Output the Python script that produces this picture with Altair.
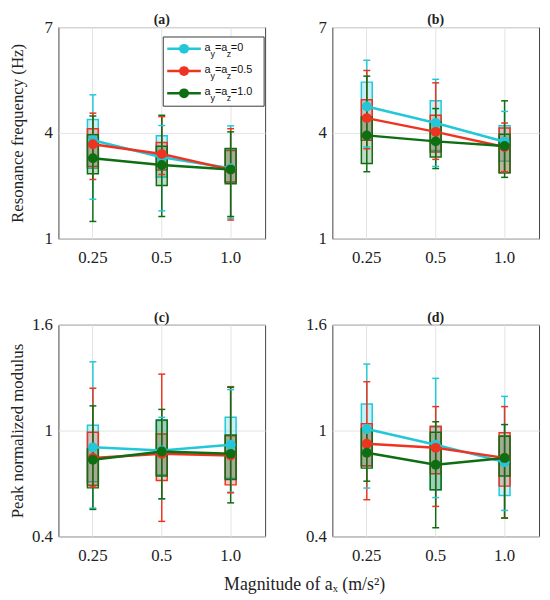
import altair as alt
import pandas as pd

CATS = ['0.25', '0.5', '1.0']
SERIES = ['ay=az=0', 'ay=az=0.5', 'ay=az=1.0']
LEVELS = ['0', '0.5', '1.0']
COLORS = ['#22C8D8', '#EE3320', '#0E6E12']

# Panel (a) resonance frequency; rows = series (cyan, red, green), cols = CATS
A_MEAN = [[3.79, 3.31, 3.00], [3.68, 3.40, 2.96], [3.28, 3.09, 2.96]]
A_BLO = [[3.00, 2.75, 2.60], [3.05, 2.95, 2.61], [2.84, 2.51, 2.56]]
A_BHI = [[4.38, 3.92, 3.55], [4.12, 3.73, 3.50], [3.95, 3.62, 3.56]]
A_WLO = [[2.12, 1.79, 1.58], [2.68, 2.82, 1.53], [1.49, 1.63, 1.63]]
A_WHI = [[5.08, 4.21, 4.20], [4.56, 4.46, 4.12], [4.48, 4.50, 4.03]]

# Panel (b)
B_MEAN = [[4.75, 4.28, 3.75], [4.42, 4.03, 3.60], [3.93, 3.76, 3.63]]
B_BLO = [[3.90, 3.50, 3.20], [3.79, 3.46, 2.87], [3.13, 3.32, 2.87]]
B_BHI = [[5.44, 4.91, 4.20], [4.94, 4.50, 4.14], [4.45, 4.31, 3.96]]
B_WLO = [[3.60, 3.05, 2.90], [3.55, 3.25, 2.90], [2.90, 2.99, 2.74]]
B_WHI = [[6.06, 5.52, 4.61], [5.77, 5.42, 4.28], [5.61, 4.69, 4.91]]

# Panel (c) peak normalized modulus
C_MEAN = [[0.905, 0.887, 0.920], [0.845, 0.868, 0.858], [0.834, 0.881, 0.868]]
C_BLO = [[0.710, 0.750, 0.730], [0.690, 0.717, 0.692], [0.675, 0.742, 0.723]]
C_BHI = [[1.030, 1.057, 1.075], [0.990, 0.980, 0.970], [0.896, 1.060, 0.975]]
C_WLO = [[0.560, 0.613, 0.650], [0.680, 0.485, 0.647], [0.553, 0.613, 0.590]]
C_WHI = [[1.390, 1.075, 1.232], [1.240, 1.320, 1.249], [1.140, 1.120, 1.245]]

# Panel (d)
D_MEAN = [[1.009, 0.920, 0.821], [0.925, 0.902, 0.845], [0.874, 0.806, 0.845]]
D_BLO = [[0.800, 0.664, 0.632], [0.800, 0.755, 0.685], [0.787, 0.664, 0.742]]
D_BHI = [[1.151, 1.020, 0.970], [1.038, 1.025, 0.987], [1.010, 0.990, 0.968]]
D_WLO = [[0.674, 0.620, 0.547], [0.608, 0.570, 0.504], [0.713, 0.449, 0.504]]
D_WHI = [[1.377, 1.296, 1.194], [1.277, 1.136, 1.136], [1.020, 1.050, 1.034]]

FREQ_DOMAIN = [1, 7]
FREQ_TICKS = [1, 4, 7]
MOD_DOMAIN = [0.4, 1.6]
MOD_TICKS = [0.4, 1, 1.6]

PANEL_W = 209
PANEL_H = 214
SERIF = 'Liberation Serif'
SANS = 'Liberation Sans'


def build_df(mean, blo, bhi, wlo, whi):
    rows = []
    for si, s in enumerate(SERIES):
        for ci, c in enumerate(CATS):
            rows.append({'series': s, 'cat': c, 'mean': mean[si][ci],
                         'blo': blo[si][ci], 'bhi': bhi[si][ci],
                         'wlo': wlo[si][ci], 'whi': whi[si][ci]})
    return pd.DataFrame(rows)


color_scale = alt.Scale(domain=SERIES, range=COLORS)


def legend_layers():
    layers = []
    box_df = pd.DataFrame({'k': [0]})
    layers.append(alt.Chart(box_df).mark_rect(fill='white', stroke='#3a3a3a', strokeWidth=1).encode(
        x=alt.value(106), x2=alt.value(208), y=alt.value(10), y2=alt.value(80)))
    for i, (name, lvl, col) in enumerate(zip(SERIES, LEVELS, COLORS)):
        ry = 22 + i * 22.5
        row_df = pd.DataFrame({'series': [name], 'level': ['=' + lvl]})
        base = alt.Chart(row_df)
        layers.append(base.mark_rule(color=col, strokeWidth=2.5).encode(
            x=alt.value(110), x2=alt.value(144), y=alt.value(ry)))
        layers.append(base.mark_circle(color=col, size=100, opacity=1).encode(
            x=alt.value(127), y=alt.value(ry)))
        segs = [('a', 147.7, False), ('y', 153.7, True), ('=a', 158.3, False), ('z', 170.3, True)]
        for txt, xx, sub in segs:
            layers.append(base.mark_text(text=txt, font=SANS, fontSize=9 if sub else 11,
                                         align='left', baseline='middle', color='#111').encode(
                x=alt.value(xx), y=alt.value(ry + 5 if sub else ry - 1)))
        layers.append(base.mark_text(font=SANS, fontSize=11, align='left', baseline='middle',
                                     color='#111').encode(
            x=alt.value(174.3), y=alt.value(ry - 1), text='level:N'))
    return layers


def panel(df, title, ydomain, yticks, ytitle, with_legend=False):
    xenc = alt.X('cat:N', sort=CATS,
                 scale=alt.Scale(domain=CATS, paddingInner=0, paddingOuter=0),
                 axis=alt.Axis(title=None, labelAngle=0, ticks=False, domain=False,
                               grid=True, labelPadding=11))
    yaxis = alt.Axis(values=yticks, format='~g', title=ytitle, ticks=False, domain=False,
                     grid=True, minExtent=30, maxExtent=30, labelPadding=6, titlePadding=2)
    yscale = alt.Scale(domain=ydomain, nice=False, zero=False)
    col = alt.Color('series:N', scale=color_scale, legend=None)
    base = alt.Chart(df)
    boxes = base.mark_bar(size=11, fillOpacity=0.25, strokeWidth=1.5).encode(
        x=xenc, y=alt.Y('blo:Q', scale=yscale, axis=yaxis), y2='bhi:Q',
        color=col, stroke=alt.Stroke('series:N', scale=color_scale, legend=None))
    whisk = base.mark_rule(strokeWidth=1.5).encode(
        x=xenc, y=alt.Y('wlo:Q', scale=yscale, axis=yaxis), y2='whi:Q', color=col)
    cap_lo = base.mark_tick(size=7, thickness=1.5, opacity=1).encode(
        x=xenc, y=alt.Y('wlo:Q', scale=yscale, axis=yaxis), color=col)
    cap_hi = base.mark_tick(size=7, thickness=1.5, opacity=1).encode(
        x=xenc, y=alt.Y('whi:Q', scale=yscale, axis=yaxis), color=col)
    line = base.mark_line(strokeWidth=2.5).encode(
        x=xenc, y=alt.Y('mean:Q', scale=yscale, axis=yaxis), color=col, detail='series:N')
    pts = base.mark_circle(size=100, opacity=1).encode(
        x=xenc, y=alt.Y('mean:Q', scale=yscale, axis=yaxis), color=col)
    layers = [boxes, whisk, cap_lo, cap_hi, line, pts]
    if with_legend:
        layers += legend_layers()
    return alt.layer(*layers).properties(width=PANEL_W, height=PANEL_H, title=title)


pa = panel(build_df(A_MEAN, A_BLO, A_BHI, A_WLO, A_WHI), '(a)', FREQ_DOMAIN, FREQ_TICKS,
           'Resonance frequency (Hz)', with_legend=True)
pb = panel(build_df(B_MEAN, B_BLO, B_BHI, B_WLO, B_WHI), '(b)', FREQ_DOMAIN, FREQ_TICKS, None)
pc = panel(build_df(C_MEAN, C_BLO, C_BHI, C_WLO, C_WHI), '(c)', MOD_DOMAIN, MOD_TICKS,
           'Peak normalized modulus')
pd_ = panel(build_df(D_MEAN, D_BLO, D_BHI, D_WLO, D_WHI), '(d)', MOD_DOMAIN, MOD_TICKS, None)

top = alt.hconcat(pa, pb, spacing=36)
bottom = alt.hconcat(pc, pd_, spacing=36)

chart = alt.vconcat(top, bottom, spacing=44).properties(
    title=alt.TitleParams('Magnitude of aₓ (m/s²)', orient='bottom', anchor='middle',
                          frame='bounds', fontSize=18, fontWeight='normal', font=SERIF,
                          offset=13, dx=31),
    padding={'left': 0, 'top': 1, 'right': 2, 'bottom': 0},
    background='white',
).configure_view(
    stroke='#444', strokeWidth=1
).configure_axis(
    labelFont=SERIF, labelFontSize=17, labelColor='#222',
    titleFont=SERIF, titleFontSize=17, titleFontWeight='normal', titleColor='#222',
    gridColor='#e4e4e4', gridWidth=1
).configure_title(
    font=SERIF, fontSize=14, fontWeight='bold', anchor='middle', offset=-9, color='#222', frame='group'
)

chart.save('out.html', embed_options={'renderer': 'svg', 'actions': False})
